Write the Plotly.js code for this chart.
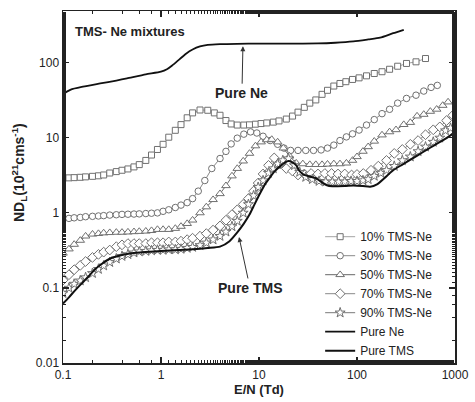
<!DOCTYPE html>
<html>
<head>
<meta charset="utf-8">
<script src="https://cdn.plot.ly/plotly-3.0.1.min.js"></script>
<style>html,body{margin:0;padding:0;background:#fff;}#chart{width:475px;height:402px;}</style>
</head>
<body>
<div id="chart"></div>
<script>
// ---- data (E/N in Td, ND_L in 10^21 cm^-1 s^-1) ----
const x10 = [0.1,0.115,0.13,0.15,0.17,0.2,0.23,0.26,0.3,0.35,0.4,0.46,0.53,0.6,0.7,0.8,0.92,1.05,1.2,1.4,1.6,1.85,2.1,2.5,3.0,3.5,4.0,4.6,5.2,6.0,7.0,8.0,9.2,10.5,12,14,16,19,22,25,29,33,38,44,50,58,67,77,90,105,125,150,180,215,260,320,400,500];
const y10 = [2.9,2.93,2.95,2.98,3.02,3.07,3.12,3.2,3.4,3.55,3.7,3.85,4.1,4.4,5.0,5.9,7.0,8.2,10.2,12.6,15,18.5,21.5,23.5,23.3,21.5,20,17,15.3,14.8,14.8,14.9,15.2,15.5,15.8,16.2,16.8,17.8,19.5,22,25.5,29,32,38,43,49,53,56,60,63,67,72,76,82,90,98,103,114];

const x30 = [0.1,0.115,0.13,0.15,0.17,0.2,0.23,0.26,0.3,0.35,0.4,0.46,0.53,0.6,0.7,0.8,0.92,1.05,1.2,1.4,1.6,1.85,2.1,2.4,2.8,3.3,4.0,4.6,5.2,6.0,7.0,8.2,9.5,11,13,15.5,18,21,25,30,36,43,50,58,67,78,90,105,125,150,180,215,260,320,400,480,570,660];
const y30 = [0.82,0.845,0.86,0.87,0.89,0.9,0.91,0.92,0.935,0.945,0.955,0.96,0.965,0.97,0.98,0.99,1.0,1.05,1.1,1.18,1.27,1.37,1.55,1.95,2.7,3.9,5.3,6.6,8.3,9.9,11.2,12.0,11.6,10.5,9.2,8.2,7.3,6.8,6.8,6.8,6.8,6.9,7.3,8.0,9.2,10.3,11.3,12.7,14.8,17.5,21,24,29,33.5,37,42,47,50];

const x50 = [0.1,0.115,0.13,0.15,0.17,0.2,0.23,0.26,0.3,0.35,0.4,0.46,0.53,0.6,0.7,0.8,0.92,1.05,1.2,1.4,1.6,1.85,2.1,2.5,2.9,3.4,4.0,4.6,5.3,6.0,6.9,8.0,9.2,10.5,12,13.5,15.5,17.7,20.5,24,28,33,38,44,50,58,67,78,90,100,115,130,150,180,215,250,300,350,410,480,560,650,750,850];
const y50 = [0.29,0.33,0.38,0.43,0.49,0.52,0.53,0.54,0.545,0.55,0.55,0.555,0.56,0.565,0.57,0.58,0.6,0.6,0.6,0.62,0.66,0.72,0.8,1.0,1.2,1.5,1.8,2.3,3.1,3.9,4.9,6.2,7.8,8.8,9.4,9.5,8.8,7.3,5.7,4.6,4.5,4.4,4.4,4.4,4.45,4.5,4.5,4.6,5.0,5.6,6.6,7.6,9.0,10.9,12,12.8,15,16,19.5,20.5,22.5,24,27,30];

const x70 = [0.1,0.115,0.13,0.15,0.17,0.2,0.23,0.26,0.3,0.35,0.4,0.46,0.53,0.6,0.7,0.8,0.92,1.05,1.2,1.4,1.6,1.85,2.1,2.5,2.9,3.4,4.0,4.6,5.3,6.0,6.9,7.8,8.8,9.8,11,12.5,14.3,16.4,19,22,25,29,34,40,47,55,64,75,88,100,116,139,165,200,240,290,350,420,500,600,700,820,950];
const y70 = [0.127,0.15,0.175,0.2,0.225,0.255,0.28,0.3,0.32,0.355,0.375,0.39,0.39,0.39,0.39,0.4,0.4,0.4,0.41,0.41,0.42,0.44,0.46,0.49,0.53,0.59,0.67,0.8,0.95,1.1,1.3,1.55,1.95,2.5,3.3,4.3,5.4,4.5,3.9,3.6,3.2,3.3,3.35,3.3,3.35,3.35,3.3,3.3,3.2,3.25,3.35,3.7,4.2,5.0,6.2,7.0,8.2,9.2,11,12.8,14,17,20];

const x90 = [0.1,0.115,0.13,0.15,0.17,0.2,0.23,0.26,0.3,0.35,0.4,0.46,0.53,0.6,0.7,0.8,0.92,1.05,1.2,1.4,1.6,1.85,2.1,2.5,2.9,3.4,4.0,4.6,5.3,6.0,6.9,7.8,8.8,9.8,11,12.5,14,15.5,17.5,20,23,26,30,35,41,48,56,65,75,87,100,115,130,150,175,200,240,290,350,420,500,600,700,800,900];
const y90 = [0.085,0.1,0.113,0.125,0.138,0.157,0.178,0.198,0.22,0.245,0.265,0.28,0.295,0.305,0.31,0.315,0.32,0.32,0.325,0.325,0.33,0.34,0.35,0.37,0.4,0.44,0.49,0.56,0.66,0.78,1.0,1.3,1.7,2.2,2.7,3.4,3.9,4.5,5.0,5.3,4.3,3.5,3.0,2.8,2.65,2.6,2.6,2.6,2.6,2.65,2.65,2.7,2.8,3.1,3.4,3.7,4.2,5.0,5.6,6.6,7.6,8.8,10,12.5,13.5];

const xNe = [0.1,0.105,0.12,0.16,0.24,0.35,0.45,0.7,1.0,1.15,1.3,1.55,1.8,2.1,2.5,3.0,4.0,6.0,10,20,40,60,92,130,172,234,300];
const yNe = [39,40,44,48,53,58,62,70,76,82,92,112,132,150,165,173,177,179,180,180,181,185,193,205,216,248,275];

const xTMS = [0.1,0.115,0.13,0.15,0.18,0.21,0.25,0.3,0.38,0.5,0.65,0.85,1.0,1.5,2.1,3.0,4.0,5.0,6.0,7.0,8.0,9.0,10.2,11.5,13,14.5,16.5,18.5,20,22,24,26,29,33,38,45,51,60,75,92,115,136,160,190,234,290,345,420,512,620,756,900,1000];
const yTMS = [0.062,0.075,0.09,0.11,0.14,0.175,0.21,0.245,0.27,0.29,0.3,0.305,0.31,0.32,0.327,0.34,0.355,0.42,0.55,0.72,0.95,1.3,1.8,2.4,3.0,3.6,4.2,4.7,4.9,4.7,4.3,3.6,3.2,3.05,2.9,2.5,2.3,2.27,2.28,2.32,2.28,2.23,2.4,2.9,3.7,4.4,5.05,5.9,6.9,8.0,9.3,10.8,12.0];

const names = ['10% TMS-Ne','30% TMS-Ne','50% TMS-Ne','70% TMS-Ne','90% TMS-Ne','Pure Ne','Pure TMS'];
const xTicks = [0.1,1,10,100,1000];
const xTickText = ['0.1','1','10','100','1000'];
const yTicks = [0.01,0.1,1,10,100];
const yTickText = ['0.01','0.1','1','10','100'];

const FONT = 'Liberation Sans, Arial, sans-serif';

// ---- traces ----
function mixTrace(x, y, name, symbol, size, lineColor) {
  return {
    x: x, y: y, name: name, type: 'scatter', mode: 'lines+markers',
    line: {color: lineColor, width: 0.8},
    marker: {symbol: symbol, size: size, color: '#ffffff', line: {color: '#707070', width: 1}}
  };
}
const traces = [
  mixTrace(x10, y10, names[0], 'square', 6, '#8a8a8a'),
  mixTrace(x30, y30, names[1], 'circle', 6.5, '#6a6a6a'),
  mixTrace(x50, y50, names[2], 'triangle-up', 7.5, '#404040'),
  mixTrace(x70, y70, names[3], 'diamond', 7.5, '#6a6a6a'),
  mixTrace(x90, y90, names[4], 'star', 7.5, '#555555'),
  {x: xNe, y: yNe, name: names[5], type: 'scatter', mode: 'lines',
   line: {color: '#111', width: 1.8, shape: 'spline', smoothing: 0.6}},
  {x: xTMS, y: yTMS, name: names[6], type: 'scatter', mode: 'lines',
   line: {color: '#111', width: 2, shape: 'spline', smoothing: 0.6}}
];

const axisCommon = {
  type: 'log', showgrid: false, zeroline: false,
  showline: true, linecolor: '#222', linewidth: 1.5, mirror: 'allticks',
  ticks: 'inside', ticklen: 6, tickwidth: 1.2, tickcolor: '#222',
  minor: {ticks: 'inside', ticklen: 3, tickwidth: 1, tickcolor: '#222', showgrid: false},
  tickfont: {family: FONT, size: 12, color: '#222'}
};

const layout = {
  width: 475, height: 402,
  margin: {l: 63, r: 20, t: 11, b: 39},
  paper_bgcolor: '#fff', plot_bgcolor: '#fff',
  showlegend: true,
  legend: {x: 0.656, y: 0.40, xanchor: 'left', yanchor: 'top', bgcolor: 'rgba(0,0,0,0)',
           font: {family: FONT, size: 12, color: '#222'},
           tracegroupgap: 0, itemwidth: 30},
  xaxis: Object.assign({}, axisCommon, {
    range: [-1, 3], tickvals: xTicks, ticktext: xTickText,
    title: {text: 'E/N (Td)', standoff: 3,
            font: {family: FONT, size: 13, weight: 700, color: '#222'}}
  }),
  yaxis: Object.assign({}, axisCommon, {
    range: [-2, 2.69], tickvals: yTicks, ticktext: yTickText
  }),
  annotations: [
    {xref: 'paper', yref: 'paper', x: -0.112, y: 0.54, xanchor: 'center', yanchor: 'middle',
     textangle: -90, showarrow: false,
     text: 'ND<sub>L</sub>(10<sup>21</sup>cms<sup>-1</sup>)',
     font: {family: FONT, size: 14, weight: 700, color: '#222'}},
    {xref: 'paper', yref: 'paper', x: 0.026, y: 0.943, xanchor: 'left', yanchor: 'middle',
     text: 'TMS- Ne mixtures', showarrow: false,
     font: {family: FONT, size: 13, weight: 700, color: '#222'}},
    {xref: 'paper', yref: 'paper', x: 0.459, y: 0.90, text: 'Pure Ne',
     showarrow: true, arrowhead: 2, arrowsize: 1, arrowwidth: 1, arrowcolor: '#333', ax: -1, ay: 47,
     font: {family: FONT, size: 14, weight: 700, color: '#222'}},
    {xref: 'paper', yref: 'paper', x: 0.449, y: 0.358, text: 'Pure TMS',
     showarrow: true, arrowhead: 2, arrowsize: 1, arrowwidth: 1, arrowcolor: '#333', ax: 11, ay: 51,
     font: {family: FONT, size: 14, weight: 700, color: '#222'}}
  ]
};

Plotly.newPlot('chart', traces, layout, {displayModeBar: false, staticPlot: true});
</script>
</body>
</html>
